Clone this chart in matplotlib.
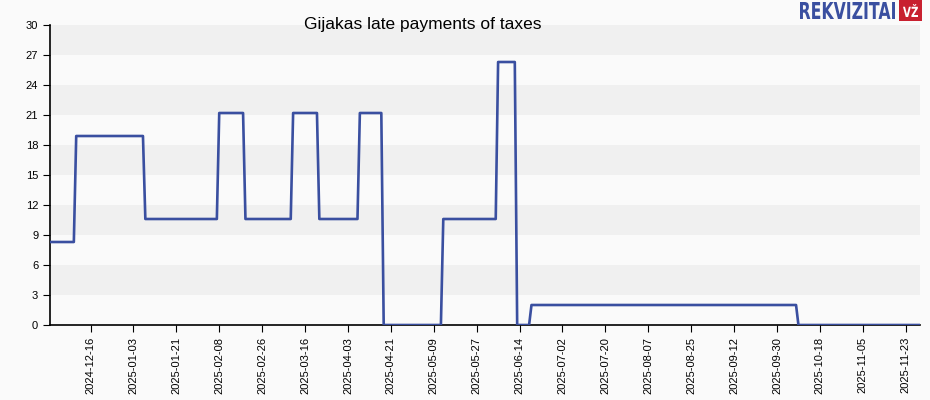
import numpy as np
import pandas as pd
import matplotlib
matplotlib.use("Agg")
import matplotlib.pyplot as plt
import matplotlib.dates as mdates
from matplotlib.patches import Rectangle, PathPatch
from matplotlib.textpath import TextPath
from matplotlib.font_manager import FontProperties
from matplotlib.transforms import Affine2D

# ---- data ----
change_dates = ["2024-11-29", "2024-12-10", "2025-01-08", "2025-02-08", "2025-02-19",
                "2025-03-11", "2025-03-22", "2025-04-08", "2025-04-18", "2025-05-13",
                "2025-06-05", "2025-06-13", "2025-06-19", "2025-10-09", "2025-11-29"]
change_values = [8.3, 18.9, 10.6, 21.2, 10.6, 21.2, 10.6, 21.2, 0.0, 10.6,
                 26.3, 0.0, 2.0, 0.0, 0.0]
tick_labels = ["2024-12-16", "2025-01-03", "2025-01-21", "2025-02-08", "2025-02-26",
               "2025-03-16", "2025-04-03", "2025-04-21", "2025-05-09", "2025-05-27",
               "2025-06-14", "2025-07-02", "2025-07-20", "2025-08-07", "2025-08-25",
               "2025-09-12", "2025-09-30", "2025-10-18", "2025-11-05", "2025-11-23"]
y_ticks = list(range(0, 31, 3))
title = "Gijakas late payments of taxes"

# step function sampled per day
s = pd.Series(change_values, index=pd.to_datetime(change_dates))
days = pd.date_range(s.index[0], s.index[-1], freq="D")
daily = s.reindex(days).ffill()

# ---- figure ----
W, H = 930, 400
bg = "#fafafa"
plt.rcParams["font.family"] = ["Liberation Sans", "DejaVu Sans"]
fig = plt.figure(figsize=(W/100, H/100), dpi=100, facecolor=bg)
ax = fig.add_axes([50/W, 75/H, 870/W, 300/H])
ax.set_facecolor(bg)

# alternating bands
for i, y0 in enumerate(y_ticks[:-1]):
    if i % 2 == 1:
        ax.axhspan(y0, y0 + 3, color="#f0f0f0", zorder=0, lw=0)

ax.plot(daily.index, daily.values, color="#3a4fa0", lw=1.9, zorder=3)

ax.set_xlim(days[0], days[-1])
ax.set_ylim(0, 30)
ax.set_yticks(y_ticks)
ax.set_xticks(pd.to_datetime(tick_labels))
ax.xaxis.set_major_formatter(mdates.DateFormatter("%Y-%m-%d"))
ax.tick_params(axis="x", rotation=90, labelsize=8, length=5, direction="out")
ax.tick_params(axis="y", labelsize=8, length=5, direction="out")
for sp in ["top", "right"]:
    ax.spines[sp].set_visible(False)
ax.spines["left"].set_linewidth(1.2)
ax.spines["bottom"].set_linewidth(1.2)

fig.text(423/W, 1 - 24/H, title, ha="center", va="center", fontsize=12.5)

# logo: narrow bold wordmark fitted into its box (pixels, top-left origin)
def fitted_text(txt, x0, x1, ytop, ybot, color):
    tp = TextPath((0, 0), txt, size=10, prop=FontProperties(family="DejaVu Sans", weight="bold"))
    ext = tp.get_extents()
    sx = (x1 - x0) / ext.width
    sy = (ybot - ytop) / ext.height
    tr = (Affine2D().translate(-ext.x0, -ext.y0).scale(sx / W, sy / H)
          .translate(x0 / W, 1 - ybot / H) + fig.transFigure)
    fig.patches.append(PathPatch(tp, transform=tr, color=color, lw=0))

fitted_text("REKVIZITAI", 800, 895, 2, 19, "#3a4fa0")
fig.patches.append(Rectangle((899/W, 1 - 21/H), 23/W, 21/H,
                             transform=fig.transFigure, color="#c8202f", lw=0))
fitted_text("VŽ", 903, 918, 4, 17, "white")

fig.savefig("out.png", dpi=100, facecolor=bg)
